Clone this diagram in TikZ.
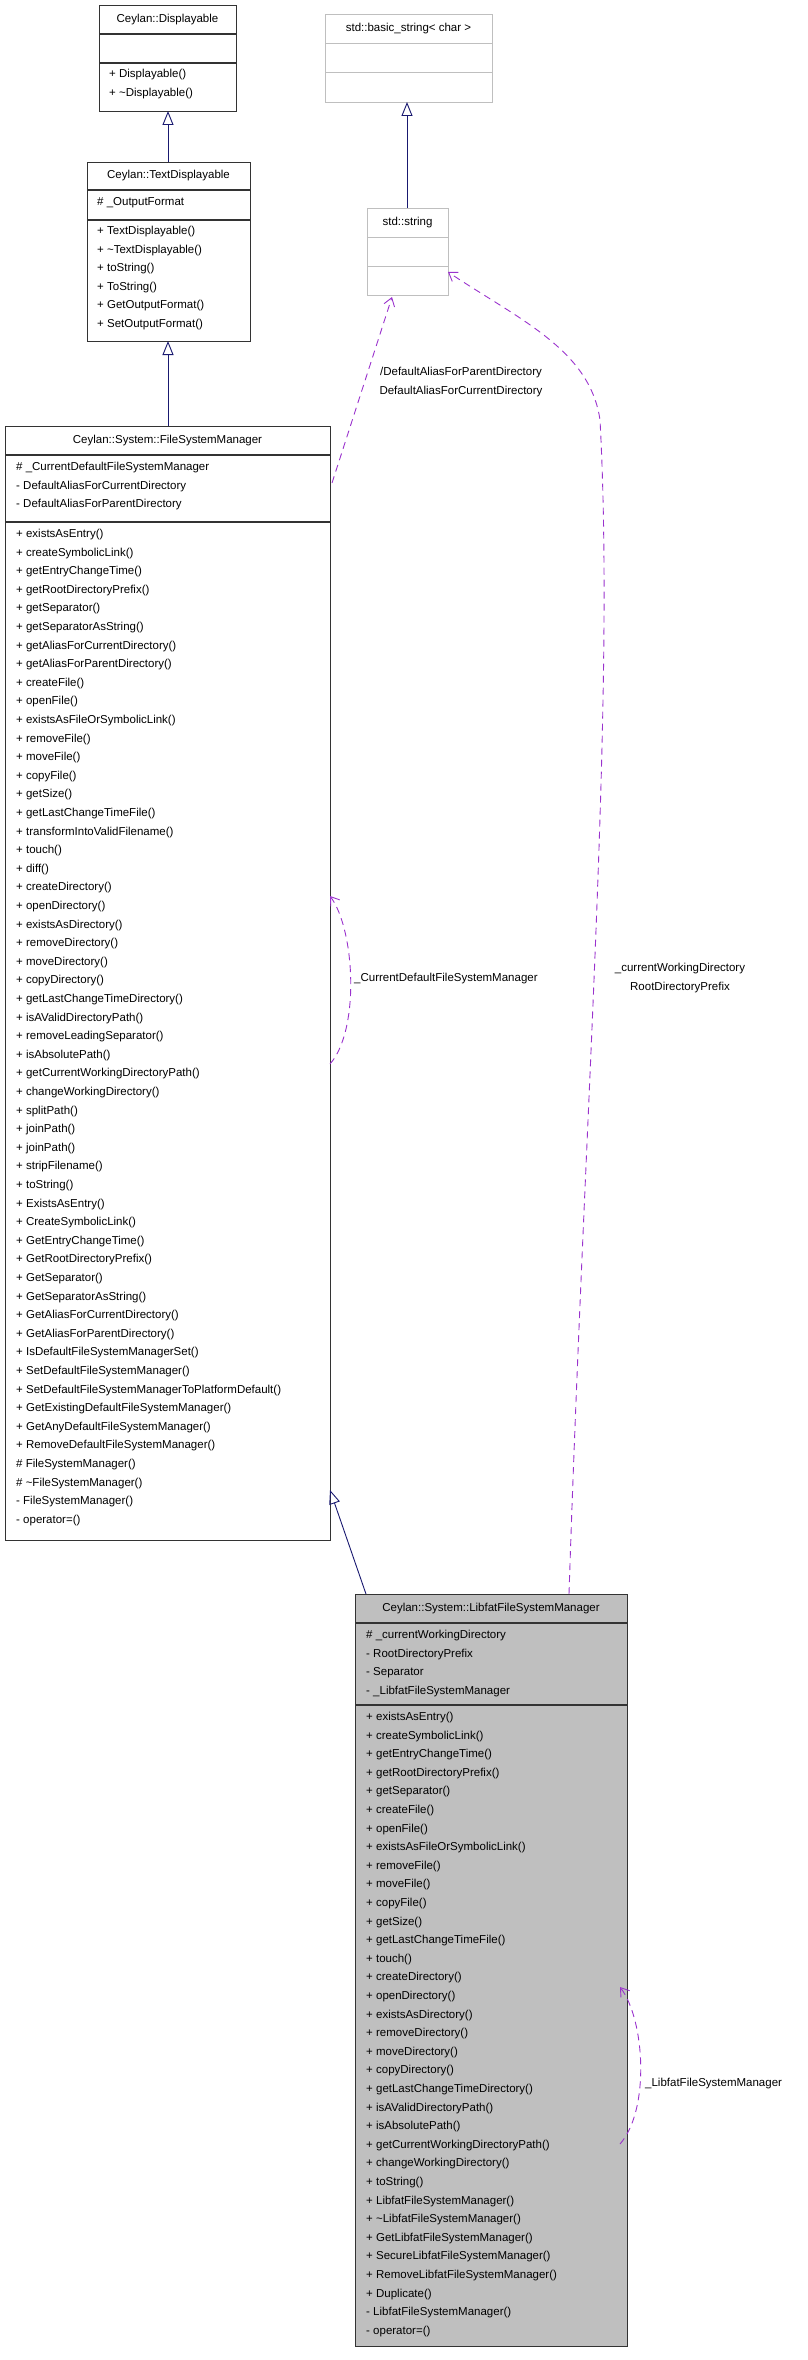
\documentclass[tikz,border=0pt]{standalone}
\usepackage{fontspec}
\setmainfont{Liberation Sans}
\usetikzlibrary{arrows.meta}
\definecolor{navy}{HTML}{191970}
\definecolor{purp}{HTML}{9A32CD}
\definecolor{lgray}{HTML}{BFBFBF}
\begin{document}
\begin{tikzpicture}[x=1pt,y=-1pt,
  boxa/.style={draw=black!80,line width=1.2pt,anchor=north west,inner sep=0pt},
  boxg/.style={draw=lgray,line width=1pt,anchor=north west,inner sep=0pt},
  txt/.style={anchor=north west,inner sep=0pt,align=left,font=\fontsize{11.5}{18.6}\selectfont},
  hdr/.style={inner sep=0pt,font=\fontsize{11.5}{18.6}\selectfont},
  lbl/.style={inner sep=0pt,align=center,font=\fontsize{11.5}{18.6}\selectfont},
  inh/.style={navy,line width=0.9pt,-{Triangle[open,length=14pt,width=11pt]}},
  use/.style={purp,line width=0.9pt,dashed,dash pattern=on 7pt off 5pt,-{Straight Barb[length=8pt,width=11pt]}}]
\useasboundingbox (0,0) rectangle (807,2360);
% Displayable
\node[boxa,minimum width=137pt,minimum height=106pt] (disp) at (99,5) {};
\draw[black!80,line width=1.2pt] (99,34)--(236,34) (99,63)--(236,63);
\node[hdr] (disph) at (167.5,19.5) {Ceylan::Displayable};
\node[txt] (dispm) at (109,69) {+ Displayable()\\+ \textasciitilde Displayable()};
% TextDisplayable
\node[boxa,minimum width=163pt,minimum height=179pt] (td) at (87,162) {};
\draw[black!80,line width=1.2pt] (87,190)--(250,190) (87,220)--(250,220);
\node[hdr] (tdh) at (168.5,176) {Ceylan::TextDisplayable};
\node[txt] (tda) at (97,197) {\# \_OutputFormat};
\node[txt] (tdm) at (97,226) {+ TextDisplayable()\\+ \textasciitilde TextDisplayable()\\+ toString()\\+ ToString()\\+ GetOutputFormat()\\+ SetOutputFormat()};
% basic_string
\node[boxg,minimum width=167pt,minimum height=88pt] (bs) at (325,14) {};
\draw[lgray,line width=1pt] (325,44)--(492,44) (325,73)--(492,73);
\node[hdr] (bsh) at (408.5,29) {std::basic\_string< char >};
% string
\node[boxg,minimum width=81pt,minimum height=87pt] (str) at (367,208) {};
\draw[lgray,line width=1pt] (367,237)--(448,237) (367,266)--(448,266);
\node[hdr] (strh) at (407.5,222.5) {std::string};
% FileSystemManager
\node[boxa,minimum width=325pt,minimum height=1114pt] (fsm) at (5,426) {};
\draw[black!80,line width=1.2pt] (5,455)--(330,455) (5,522)--(330,522);
\node[hdr] (fsmh) at (167.5,440.5) {Ceylan::System::FileSystemManager};
\node[txt] (fsma) at (16,462) {\# \_CurrentDefaultFileSystemManager\\- DefaultAliasForCurrentDirectory\\- DefaultAliasForParentDirectory};
\node[txt] (fsmm) at (16,529) {+ existsAsEntry()\\+ createSymbolicLink()\\+ getEntryChangeTime()\\+ getRootDirectoryPrefix()\\+ getSeparator()\\+ getSeparatorAsString()\\+ getAliasForCurrentDirectory()\\+ getAliasForParentDirectory()\\+ createFile()\\+ openFile()\\+ existsAsFileOrSymbolicLink()\\+ removeFile()\\+ moveFile()\\+ copyFile()\\+ getSize()\\+ getLastChangeTimeFile()\\+ transformIntoValidFilename()\\+ touch()\\+ diff()\\+ createDirectory()\\+ openDirectory()\\+ existsAsDirectory()\\+ removeDirectory()\\+ moveDirectory()\\+ copyDirectory()\\+ getLastChangeTimeDirectory()\\+ isAValidDirectoryPath()\\+ removeLeadingSeparator()\\+ isAbsolutePath()\\+ getCurrentWorkingDirectoryPath()\\+ changeWorkingDirectory()\\+ splitPath()\\+ joinPath()\\+ joinPath()\\+ stripFilename()\\+ toString()\\+ ExistsAsEntry()\\+ CreateSymbolicLink()\\+ GetEntryChangeTime()\\+ GetRootDirectoryPrefix()\\+ GetSeparator()\\+ GetSeparatorAsString()\\+ GetAliasForCurrentDirectory()\\+ GetAliasForParentDirectory()\\+ IsDefaultFileSystemManagerSet()\\+ SetDefaultFileSystemManager()\\+ SetDefaultFileSystemManagerToPlatformDefault()\\+ GetExistingDefaultFileSystemManager()\\+ GetAnyDefaultFileSystemManager()\\+ RemoveDefaultFileSystemManager()\\\# FileSystemManager()\\\# \textasciitilde FileSystemManager()\\- FileSystemManager()\\- operator=()};
% Libfat
\node[boxa,fill=lgray,minimum width=272pt,minimum height=752pt] (lib) at (355,1594) {};
\draw[black!80,line width=1.2pt] (355,1623)--(627,1623) (355,1705)--(627,1705);
\node[hdr] (libh) at (491,1608.5) {Ceylan::System::LibfatFileSystemManager};
\node[txt] (liba) at (366,1630) {\# \_currentWorkingDirectory\\- RootDirectoryPrefix\\- Separator\\- \_LibfatFileSystemManager};
\node[txt] (libm) at (366,1712) {+ existsAsEntry()\\+ createSymbolicLink()\\+ getEntryChangeTime()\\+ getRootDirectoryPrefix()\\+ getSeparator()\\+ createFile()\\+ openFile()\\+ existsAsFileOrSymbolicLink()\\+ removeFile()\\+ moveFile()\\+ copyFile()\\+ getSize()\\+ getLastChangeTimeFile()\\+ touch()\\+ createDirectory()\\+ openDirectory()\\+ existsAsDirectory()\\+ removeDirectory()\\+ moveDirectory()\\+ copyDirectory()\\+ getLastChangeTimeDirectory()\\+ isAValidDirectoryPath()\\+ isAbsolutePath()\\+ getCurrentWorkingDirectoryPath()\\+ changeWorkingDirectory()\\+ toString()\\+ LibfatFileSystemManager()\\+ \textasciitilde LibfatFileSystemManager()\\+ GetLibfatFileSystemManager()\\+ SecureLibfatFileSystemManager()\\+ RemoveLibfatFileSystemManager()\\+ Duplicate()\\- LibfatFileSystemManager()\\- operator=()};
% coordinates
\coordinate (a1) at (168,162); \coordinate (a1e) at (168,111);
\coordinate (a2) at (168,426); \coordinate (a2e) at (168,341);
\coordinate (a3) at (407,208); \coordinate (a3e) at (407,102);
\coordinate (a4) at (366,1594); \coordinate (a4e) at (330,1490);
\coordinate (u1s) at (332,483); \coordinate (u1e) at (392,297);
\coordinate (u2s) at (569,1594); \coordinate (u2e) at (448,272);
\coordinate (s1s) at (330,1064); \coordinate (s1e) at (330,896);
\coordinate (s2s) at (620,2144); \coordinate (s2e) at (620,1987);
% edges
\draw[inh] (a1) -- (a1e);
\draw[inh] (a2) -- (a2e);
\draw[inh] (a3) -- (a3e);
\draw[inh] (a4) -- (a4e);
\draw[use] (u1s) -- (u1e);
\draw[use] (u2s) .. controls (585,1100) and (615,700) .. (600,420) .. controls (590,350) and (520,320) .. (u2e);
\draw[use] (s1s) .. controls (360,1030) and (355,930) .. (s1e);
\draw[use] (s2s) .. controls (650,2110) and (645,2020) .. (s2e);
% labels
\node[lbl] (l1) at (461,382) {/DefaultAliasForParentDirectory\\DefaultAliasForCurrentDirectory};
\node[lbl] (l2) at (680,978) {\_currentWorkingDirectory\\RootDirectoryPrefix};
\node[lbl,anchor=west] (l3) at (354,979) {\_CurrentDefaultFileSystemManager};
\node[lbl,anchor=west] (l4) at (645,2084) {\_LibfatFileSystemManager};
\end{tikzpicture}
\end{document}
